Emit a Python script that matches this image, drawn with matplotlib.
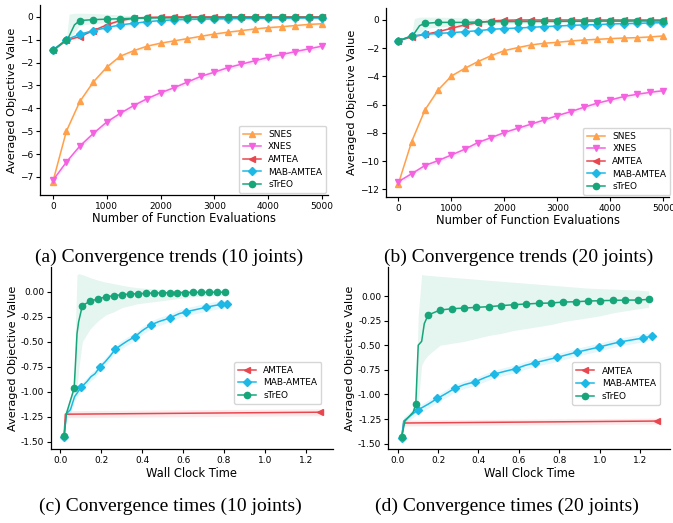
import numpy as np
import matplotlib
matplotlib.use("Agg")
import matplotlib.pyplot as plt

# ---------------- data ----------------
names = ["SNES", "XNES", "AMTEA", "MAB-AMTEA", "sTrEO"]
colors = {"SNES": "#FFA04A", "XNES": "#F462E0", "AMTEA": "#E8474F",
          "MAB-AMTEA": "#1CB9E6", "sTrEO": "#17A57A"}
markers = {"SNES": "^", "XNES": "v", "AMTEA": "<", "MAB-AMTEA": "D", "sTrEO": "o"}

evals = [0, 250, 500, 750, 1000, 1250, 1500, 1750, 2000, 2250, 2500,
         2750, 3000, 3250, 3500, 3750, 4000, 4250, 4500, 4750, 5000]
evals_streo = [0, 250, 300, 400, 500, 750, 1000, 1250, 1500, 1750, 2000, 2250, 2500,
               2750, 3000, 3250, 3500, 3750, 4000, 4250, 4500, 4750, 5000]

# (a) 10 joints
a_snes = [-7.2, -5.0, -3.7, -2.85, -2.2, -1.72, -1.48, -1.28, -1.15, -1.05, -0.95,
          -0.85, -0.75, -0.67, -0.6, -0.53, -0.47, -0.43, -0.38, -0.33, -0.3]
a_xnes = [-7.15, -6.35, -5.65, -5.1, -4.6, -4.22, -3.88, -3.58, -3.32, -3.1, -2.85,
          -2.6, -2.42, -2.22, -2.07, -1.92, -1.77, -1.65, -1.52, -1.4, -1.28]
a_amtea = [-1.47, -1.03, -0.86, -0.6, -0.35, -0.16, -0.06, -0.02, -0.01, 0.0, 0.0,
           0.0, 0.0, 0.0, 0.0, 0.0, 0.0, 0.0, 0.0, 0.0, 0.0]
a_mab = [-1.45, -1.0, -0.76, -0.6, -0.47, -0.35, -0.28, -0.21, -0.16, -0.13, -0.11,
         -0.1, -0.09, -0.08, -0.07, -0.07, -0.06, -0.06, -0.05, -0.05, -0.05]
a_streo = [-1.46, -1.0, -0.85, -0.35, -0.16, -0.12, -0.1, -0.08, -0.06, -0.05, -0.04,
           -0.04, -0.03, -0.03, -0.03, -0.02, -0.02, -0.02, -0.02, -0.02, -0.02, -0.02, -0.02]
a_streo_up = [-1.46, -0.95, 0.12, 0.16, 0.16, 0.15, 0.12, 0.08, 0.05, 0.03, 0.02,
              0.01, 0.01, 0.0, 0.0, 0.0, 0.0, 0.0, 0.0, 0.0, 0.0, 0.0, 0.0]
a_streo_lo = [-1.46, -1.05, -1.0, -0.7, -0.35, -0.3, -0.25, -0.2, -0.15, -0.12, -0.1,
              -0.09, -0.08, -0.07, -0.06, -0.05, -0.05, -0.04, -0.04, -0.04, -0.04, -0.04, -0.04]

# (b) 20 joints
b_snes = [-11.6, -8.62, -6.38, -4.96, -3.97, -3.43, -2.95, -2.53, -2.17, -1.96, -1.77,
          -1.65, -1.58, -1.49, -1.42, -1.37, -1.32, -1.28, -1.25, -1.2, -1.13]
b_xnes = [-11.46, -10.9, -10.32, -9.97, -9.57, -9.17, -8.69, -8.34, -7.98, -7.68, -7.39,
          -7.09, -6.78, -6.5, -6.19, -5.9, -5.67, -5.43, -5.27, -5.13, -5.01]
b_amtea = [-1.47, -1.2, -1.02, -0.83, -0.59, -0.35, -0.19, -0.07, -0.02, 0.0, 0.0,
           0.0, 0.0, 0.0, 0.0, 0.0, 0.0, 0.0, 0.0, 0.0, 0.0]
b_mab = [-1.47, -1.13, -1.02, -0.95, -0.9, -0.83, -0.76, -0.66, -0.61, -0.57, -0.52,
         -0.47, -0.43, -0.38, -0.35, -0.33, -0.28, -0.26, -0.24, -0.21, -0.19]
b_streo = [-1.47, -1.13, -0.95, -0.4, -0.24, -0.17, -0.17, -0.17, -0.14, -0.12, -0.12,
           -0.11, -0.11, -0.1, -0.1, -0.09, -0.09, -0.08, -0.08, -0.08, -0.07, -0.07, -0.07]
b_streo_up = [-1.47, -1.05, 0.1, 0.2, 0.2, 0.2, 0.18, 0.15, 0.12, 0.1, 0.08,
              0.06, 0.05, 0.04, 0.03, 0.02, 0.02, 0.01, 0.01, 0.01, 0.01, 0.01, 0.01]
b_streo_lo = [-1.47, -1.2, -1.15, -0.9, -0.6, -0.5, -0.45, -0.4, -0.35, -0.3, -0.27,
              -0.25, -0.23, -0.21, -0.2, -0.19, -0.18, -0.17, -0.16, -0.16, -0.15, -0.15, -0.15]

# (c) wall clock, 10 joints
c_amtea_t = [0.019, 0.025, 1.268]
c_amtea = [-1.443, -1.225, -1.205]
c_mab_t = [0.019, 0.03, 0.05, 0.07, 0.102, 0.13, 0.15, 0.17, 0.192, 0.22, 0.245, 0.268,
           0.3, 0.33, 0.365, 0.4, 0.442, 0.48, 0.51, 0.537, 0.58, 0.616, 0.66, 0.711,
           0.75, 0.784, 0.813]
c_mab = [-1.45, -1.22, -1.18, -1.05, -0.957, -0.9, -0.85, -0.82, -0.757, -0.7, -0.64,
         -0.577, -0.53, -0.49, -0.45, -0.39, -0.333, -0.3, -0.28, -0.26, -0.22, -0.2,
         -0.18, -0.157, -0.14, -0.127, -0.123]
c_mab_mk = [0, 4, 8, 11, 14, 16, 19, 21, 23, 25, 26]
c_streo_t = [0.019, 0.03, 0.045, 0.068, 0.075, 0.082, 0.09, 0.108, 0.147, 0.185, 0.224,
             0.263, 0.30, 0.34, 0.379, 0.418, 0.456, 0.495, 0.534, 0.572, 0.611, 0.650,
             0.688, 0.727, 0.766, 0.805]
c_streo = [-1.443, -1.22, -1.12, -0.967, -0.7, -0.42, -0.3, -0.14, -0.093, -0.073, -0.05,
           -0.04, -0.03, -0.023, -0.02, -0.017, -0.013, -0.012, -0.01, -0.009, -0.008,
           -0.007, -0.006, -0.006, -0.005, -0.005]
c_streo_up = [-1.443, -1.21, -1.08, -0.92, -0.3, 0.17, 0.18, 0.17, 0.14, 0.115, 0.095,
              0.08, 0.065, 0.05, 0.04, 0.033, 0.028, 0.022, 0.018, 0.015, 0.012, 0.01,
              0.008, 0.006, 0.005, 0.004]
c_streo_lo = [-1.443, -1.23, -1.16, -1.0, -1.0, -0.95, -0.78, -0.5, -0.37, -0.29, -0.23,
              -0.2, -0.16, -0.14, -0.12, -0.11, -0.1, -0.09, -0.08, -0.07, -0.06, -0.05,
              -0.045, -0.04, -0.035, -0.03]
c_streo_mk = [0, 3] + list(range(7, 26))

# (d) wall clock, 20 joints
d_amtea_t = [0.02, 0.03, 1.285]
d_amtea = [-1.436, -1.29, -1.27]
d_mab_t = [0.02, 0.03, 0.06, 0.1, 0.15, 0.197, 0.24, 0.282, 0.33, 0.385, 0.43, 0.479,
           0.53, 0.585, 0.63, 0.68, 0.735, 0.79, 0.84, 0.889, 0.94, 0.998, 1.05, 1.098,
           1.16, 1.213, 1.257]
d_mab = [-1.446, -1.27, -1.22, -1.158, -1.1, -1.04, -0.99, -0.938, -0.9, -0.87, -0.83,
         -0.792, -0.765, -0.738, -0.705, -0.677, -0.65, -0.623, -0.595, -0.569, -0.545,
         -0.518, -0.49, -0.467, -0.445, -0.427, -0.406]
d_mab_mk = [0, 3, 5, 7, 9, 11, 13, 15, 17, 19, 21, 23, 25, 26]
d_streo_t = [0.02, 0.036, 0.077, 0.09, 0.102, 0.119, 0.132, 0.151, 0.21, 0.269, 0.33,
             0.39, 0.451, 0.511, 0.574, 0.634, 0.697, 0.757, 0.82, 0.88, 0.943, 1.003,
             1.066, 1.126, 1.189, 1.241]
d_streo = [-1.436, -1.27, -1.18, -1.097, -0.5, -0.46, -0.28, -0.193, -0.142, -0.129,
           -0.122, -0.115, -0.108, -0.098, -0.088, -0.081, -0.074, -0.071, -0.061,
           -0.058, -0.051, -0.047, -0.044, -0.041, -0.041, -0.034]
d_streo_up = [-1.436, -1.26, -1.15, -1.05, -0.2, 0.22, 0.213, 0.21, 0.2, 0.19, 0.18,
              0.17, 0.16, 0.15, 0.14, 0.13, 0.12, 0.11, 0.1, 0.09, 0.08, 0.075, 0.07,
              0.065, 0.06, 0.05]
d_streo_lo = [-1.436, -1.28, -1.2, -1.12, -1.1, -0.7, -0.65, -0.6, -0.5, -0.48, -0.46,
              -0.43, -0.4, -0.38, -0.35, -0.33, -0.31, -0.29, -0.26, -0.24, -0.22, -0.2,
              -0.17, -0.15, -0.13, -0.115]
d_streo_mk = [0, 3] + list(range(7, 26))

captions = ["(a) Convergence trends (10 joints)", "(b) Convergence trends (20 joints)",
            "(c) Convergence times (10 joints)", "(d) Convergence times (20 joints)"]

# ---------------- figure ----------------
W, H = 673, 523
fig = plt.figure(figsize=(W / 100, H / 100), dpi=100)


def add_ax(l, r, t, b):
    return fig.add_axes([l / W, 1 - b / H, (r - l) / W, (b - t) / H])


def style(ax):
    for s in ["top", "right"]:
        ax.spines[s].set_visible(False)
    for s in ["left", "bottom"]:
        ax.spines[s].set_linewidth(0.9)
    ax.tick_params(labelsize=6.5, length=3, width=0.8, pad=2)


def draw(ax, x, y, name, lo=None, up=None, band=None, mk=None, ms=4.5):
    x = np.asarray(x, float)
    y = np.asarray(y, float)
    c = colors[name]
    if band is not None:
        lo = y - band
        up = y + band
    if lo is not None:
        ax.fill_between(x, lo, up, color=c, alpha=0.11, lw=0)
    ax.plot(x, y, color=c, lw=1.1, marker=markers[name], ms=ms,
            markevery=mk, label=name)


mk_streo_ab = [0, 1] + list(range(4, 23))

# (a)
axa = add_ax(40, 328, 5, 195)
draw(axa, evals, a_snes, "SNES", band=0.06)
draw(axa, evals, a_xnes, "XNES", band=0.1)
draw(axa, evals, a_amtea, "AMTEA", band=0.04)
draw(axa, evals, a_mab, "MAB-AMTEA", band=0.04)
draw(axa, evals_streo, a_streo, "sTrEO", lo=a_streo_lo, up=a_streo_up, mk=mk_streo_ab)
axa.set_xlim(-240, 5110)
axa.set_ylim(-7.79, 0.52)
axa.set_xticks([0, 1000, 2000, 3000, 4000, 5000])
axa.set_yticks([0, -1, -2, -3, -4, -5, -6, -7])

# (b)
axb = add_ax(385.7, 669.3, 8, 197)
draw(axb, evals, b_snes, "SNES", band=0.08)
draw(axb, evals, b_xnes, "XNES", band=0.15)
draw(axb, evals, b_amtea, "AMTEA", band=0.05)
draw(axb, evals, b_mab, "MAB-AMTEA", band=0.05)
draw(axb, evals_streo, b_streo, "sTrEO", lo=b_streo_lo, up=b_streo_up, mk=mk_streo_ab)
axb.set_xlim(-240, 5110)
axb.set_ylim(-12.55, 0.85)
axb.set_xticks([0, 1000, 2000, 3000, 4000, 5000])
axb.set_yticks([0, -2, -4, -6, -8, -10, -12])

# (c)
axc = add_ax(51, 333, 267, 449.3)
draw(axc, c_amtea_t, c_amtea, "AMTEA", band=0.035, mk=[2])
draw(axc, c_mab_t, c_mab, "MAB-AMTEA", band=0.04, mk=c_mab_mk)
draw(axc, c_streo_t, c_streo, "sTrEO", lo=c_streo_lo, up=c_streo_up, mk=c_streo_mk)
axc.set_xlim(-0.045, 1.332)
axc.set_ylim(-1.576, 0.247)

# (d)
axd = add_ax(388.3, 670, 267, 449.3)
draw(axd, d_amtea_t, d_amtea, "AMTEA", band=0.03, mk=[2])
draw(axd, d_mab_t, d_mab, "MAB-AMTEA", band=0.04, mk=d_mab_mk)
draw(axd, d_streo_t, d_streo, "sTrEO", lo=d_streo_lo, up=d_streo_up, mk=d_streo_mk)
axd.set_xlim(-0.046, 1.347)
axd.set_ylim(-1.557, 0.295)

for ax in (axc, axd):
    ax.set_xticks([0.0, 0.2, 0.4, 0.6, 0.8, 1.0, 1.2])
    ax.set_yticks([0.0, -0.25, -0.5, -0.75, -1.0, -1.25, -1.5])
    ax.yaxis.set_major_formatter(matplotlib.ticker.FormatStrFormatter("%.2f"))
    ax.set_xlabel("Wall Clock Time", fontsize=8.3, labelpad=1)

for ax in (axa, axb):
    ax.set_xlabel("Number of Function Evaluations", fontsize=8.3, labelpad=1)

for ax in (axa, axb, axc, axd):
    style(ax)
    ax.set_ylabel("Averaged Objective Value", fontsize=8.1, labelpad=2)

leg_kw = dict(fontsize=6.5, handlelength=2.0, borderpad=0.45, labelspacing=0.4,
              handletextpad=0.8, framealpha=0.8, edgecolor="#cccccc", fancybox=True,
              borderaxespad=0.2)
axa.legend(loc="lower right", bbox_to_anchor=(1.0, 0.0), **leg_kw)
axb.legend(loc="lower right", bbox_to_anchor=(1.01, 0.0), **leg_kw)
axc.legend(loc="center right", bbox_to_anchor=(0.965, 0.364), **leg_kw)
axd.legend(loc="center right", bbox_to_anchor=(0.97, 0.36), **leg_kw)

serif = ["Liberation Serif", "DejaVu Serif"]
for (cx, cy), txt in zip([(169, 257), (519, 257), (170, 506), (507, 506)], captions):
    fig.text(cx / W, 1 - cy / H, txt, ha="center", va="center",
             fontsize=14, family=serif)

fig.savefig("out.png", dpi=100)
